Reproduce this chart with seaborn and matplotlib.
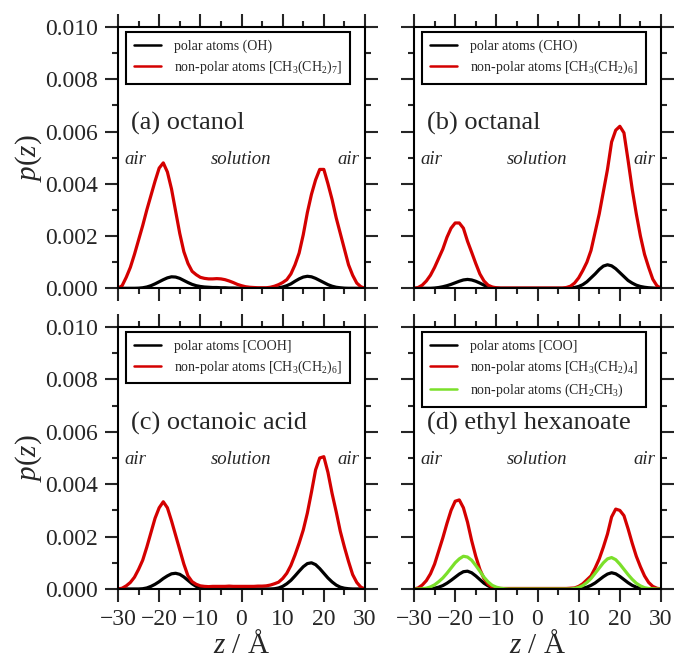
import numpy as np
import pandas as pd
import matplotlib
matplotlib.use("Agg")
import matplotlib.pyplot as plt
from matplotlib.ticker import MultipleLocator, FormatStrFormatter
import seaborn as sns

# ---- data: density profiles p(z), sampled every 1 Angstrom (values in units of 1e-3) ----
z = list(range(-30, 31))

a_polar = [0, 0, 0, 0, 0, 0.005, 0.02, 0.05, 0.1, 0.17,
           0.25, 0.33, 0.4, 0.44, 0.43, 0.38, 0.3, 0.22, 0.15, 0.1,
           0.07, 0.05, 0.04, 0.03, 0.03, 0.02, 0.02, 0.01, 0.01, 0.005,
           0, 0, 0, 0, 0, 0, 0, 0, 0, 0.02,
           0.05, 0.1, 0.17, 0.27, 0.36, 0.43, 0.46, 0.44, 0.38, 0.3,
           0.22, 0.14, 0.08, 0.04, 0.02, 0.005, 0, 0, 0, 0,
           0]
a_nonpolar = [0, 0.1, 0.42, 0.8, 1.3, 1.85, 2.4, 3.0, 3.55, 4.1,
              4.6, 4.8, 4.45, 3.8, 2.95, 2.1, 1.4, 0.95, 0.65, 0.52,
              0.42, 0.38, 0.36, 0.36, 0.37, 0.36, 0.33, 0.28, 0.22, 0.15,
              0.1, 0.06, 0.04, 0.03, 0.02, 0.02, 0.02, 0.04, 0.08, 0.14,
              0.22, 0.33, 0.55, 0.9, 1.35, 2.05, 2.9, 3.6, 4.15, 4.55,
              4.55, 4.0, 3.4, 2.7, 2.1, 1.5, 0.9, 0.5, 0.2, 0.06,
              0]

b_polar = [0, 0, 0, 0, 0, 0.01, 0.03, 0.06, 0.1, 0.15,
           0.21, 0.27, 0.32, 0.34, 0.32, 0.27, 0.2, 0.12, 0.06, 0.03,
           0.01, 0, 0, 0, 0, 0, 0, 0, 0, 0,
           0, 0, 0, 0, 0, 0, 0, 0, 0.01, 0.03,
           0.07, 0.14, 0.25, 0.4, 0.55, 0.72, 0.85, 0.9, 0.86, 0.75,
           0.6, 0.45, 0.3, 0.2, 0.12, 0.07, 0.04, 0.02, 0.01, 0,
           0]
b_nonpolar = [0, 0.03, 0.12, 0.28, 0.5, 0.8, 1.15, 1.5, 1.95, 2.3,
              2.5, 2.5, 2.3, 1.8, 1.38, 0.95, 0.55, 0.28, 0.12, 0.05,
              0.02, 0.01, 0.01, 0.01, 0.01, 0.01, 0.01, 0.01, 0.01, 0.01,
              0.01, 0.01, 0.01, 0.01, 0.01, 0.01, 0.01, 0.03, 0.08, 0.2,
              0.4, 0.68, 1.0, 1.45, 2.15, 2.85, 3.7, 4.55, 5.6, 6.05,
              6.2, 5.95, 4.9, 3.8, 2.85, 2.0, 1.3, 0.8, 0.35, 0.1,
              0]

c_polar = [0, 0, 0, 0, 0, 0, 0.01, 0.04, 0.1, 0.18,
           0.28, 0.4, 0.5, 0.58, 0.6, 0.56, 0.46, 0.33, 0.2, 0.1,
           0.05, 0.02, 0.01, 0, 0, 0, 0, 0, 0, 0,
           0, 0, 0, 0, 0, 0, 0, 0, 0.01, 0.04,
           0.1, 0.2, 0.33, 0.5, 0.68, 0.85, 0.97, 1.0, 0.93, 0.78,
           0.6, 0.42, 0.27, 0.15, 0.07, 0.03, 0.01, 0, 0, 0,
           0]
c_nonpolar = [0, 0.03, 0.12, 0.25, 0.45, 0.75, 1.1, 1.6, 2.15, 2.7,
              3.1, 3.33, 3.1, 2.6, 2.05, 1.5, 0.95, 0.5, 0.28, 0.18,
              0.12, 0.1, 0.09, 0.1, 0.1, 0.1, 0.1, 0.11, 0.1, 0.1,
              0.1, 0.1, 0.1, 0.1, 0.11, 0.11, 0.12, 0.15, 0.2, 0.26,
              0.4, 0.6, 0.9, 1.3, 1.75, 2.25, 2.9, 3.7, 4.55, 5.0,
              5.05, 4.45, 3.65, 2.95, 2.2, 1.6, 1.05, 0.55, 0.25, 0.07,
              0]

d_polar = [0, 0, 0, 0, 0.01, 0.03, 0.07, 0.13, 0.22, 0.33,
           0.45, 0.57, 0.66, 0.68, 0.62, 0.5, 0.36, 0.22, 0.12, 0.05,
           0.02, 0, 0, 0, 0, 0, 0, 0, 0, 0,
           0, 0, 0, 0, 0, 0, 0, 0, 0, 0,
           0.01, 0.03, 0.07, 0.14, 0.23, 0.35, 0.47, 0.57, 0.62, 0.58,
           0.48, 0.36, 0.24, 0.14, 0.07, 0.03, 0.01, 0, 0, 0,
           0]
d_nonpolar = [0, 0.04, 0.15, 0.32, 0.58, 0.95, 1.45, 1.95, 2.5, 3.0,
              3.35, 3.4, 3.1, 2.55, 1.85, 1.25, 0.75, 0.4, 0.18, 0.07,
              0.03, 0.02, 0.02, 0.02, 0.02, 0.02, 0.02, 0.02, 0.02, 0.02,
              0.02, 0.02, 0.02, 0.02, 0.02, 0.02, 0.02, 0.02, 0.03, 0.04,
              0.1, 0.2, 0.35, 0.5, 0.8, 1.15, 1.6, 2.1, 2.75, 3.05,
              3.0, 2.8, 2.3, 1.75, 1.25, 0.85, 0.5, 0.25, 0.1, 0.03,
              0]
d_ethyl = [0, 0, 0.01, 0.03, 0.08, 0.16, 0.28, 0.42, 0.6, 0.8,
           1.0, 1.15, 1.25, 1.22, 1.1, 0.9, 0.68, 0.45, 0.27, 0.14,
           0.07, 0.03, 0.01, 0, 0, 0, 0, 0, 0, 0,
           0, 0, 0, 0, 0, 0, 0, 0, 0, 0.02,
           0.06, 0.13, 0.25, 0.4, 0.6, 0.8, 1.0, 1.15, 1.2, 1.12,
           0.95, 0.75, 0.55, 0.37, 0.22, 0.12, 0.05, 0.02, 0.01, 0,
           0]

titles = ["(a) octanol", "(b) octanal", "(c) octanoic acid", "(d) ethyl hexanoate"]
labels = [
    ["polar atoms (OH)", r"non-polar atoms [CH$_3$(CH$_2$)$_7$]"],
    ["polar atoms (CHO)", r"non-polar atoms [CH$_3$(CH$_2$)$_6$]"],
    ["polar atoms [COOH]", r"non-polar atoms [CH$_3$(CH$_2$)$_6$]"],
    ["polar atoms [COO]", r"non-polar atoms [CH$_3$(CH$_2$)$_4$]",
     r"non-polar atoms (CH$_2$CH$_3$)"],
]
series = [
    [a_polar, a_nonpolar],
    [b_polar, b_nonpolar],
    [c_polar, c_nonpolar],
    [d_polar, d_nonpolar, d_ethyl],
]
colors = ["#000000", "#d40000", "#7be02a"]
y_ticks = [0.000, 0.002, 0.004, 0.006, 0.008, 0.010]
x_ticks = [-30, -20, -10, 0, 10, 20, 30]

# ---- style ----
sns.set_theme(style="ticks")
plt.rcParams["font.family"] = ["Liberation Serif", "DejaVu Serif"]
plt.rcParams["mathtext.fontset"] = "custom"
plt.rcParams["mathtext.rm"] = "Liberation Serif"
plt.rcParams["mathtext.it"] = "Liberation Serif:italic"
plt.rcParams["axes.linewidth"] = 1.5
plt.rcParams["axes.unicode_minus"] = True

W, H = 675, 661
fig = plt.figure(figsize=(W / 100, H / 100), dpi=100)

# panel boxes in pixels: (left, right, top, bottom)
boxes = [(118, 365, 27, 288.3), (414, 661, 27, 288.3),
         (118, 365, 327, 589), (414, 661, 327, 589)]

for i, (l, r, t, b) in enumerate(boxes):
    ax = fig.add_axes([l / W, 1 - b / H, (r - l) / W, (b - t) / H])
    for s, lab, col in zip(series[i], labels[i], colors):
        df = pd.DataFrame({"z": z, "p": np.array(s) * 1e-3})
        sns.lineplot(data=df, x="z", y="p", ax=ax, color=col, lw=2.3,
                     label=lab, legend=False)
    ax.set_xlim(-30, 30)
    ax.set_ylim(0, 0.010)
    ax.set_xticks(x_ticks)
    ax.set_yticks(y_ticks)
    ax.xaxis.set_minor_locator(MultipleLocator(5))
    ax.yaxis.set_minor_locator(MultipleLocator(0.001))
    ax.yaxis.set_major_formatter(FormatStrFormatter("%.3f"))
    ax.tick_params(which="both", direction="out", top=True, right=True,
                   width=1.5, labelsize=17, pad=5,
                   labelleft=(i % 2 == 0), labelbottom=(i >= 2))
    ax.tick_params(which="major", length=9.5)
    ax.tick_params(which="minor", length=4.5)
    ax.set_xlabel("")
    ax.set_ylabel("")
    for sp in ax.spines.values():
        sp.set_linewidth(1.5)
        sp.set_color("black")

    leg = ax.legend(loc="upper left", bbox_to_anchor=(0.032, 0.981),
                    borderaxespad=0, fontsize=10, frameon=True,
                    fancybox=False, framealpha=1, edgecolor="black",
                    handlelength=1.95, handletextpad=0.95, borderpad=0.55,
                    labelspacing=0.42)
    leg.get_frame().set_linewidth(1.5)
    for ln in leg.get_lines():
        ln.set_linewidth(1.8)

    ax.text(-26.8, 0.00608, titles[i], fontsize=19, ha="left", va="baseline")
    ax.text(-28.5, 0.00477, "air", fontsize=13.5, style="italic",
            ha="left", va="baseline")
    ax.text(0, 0.00477, "solution", fontsize=13.5, style="italic",
            ha="center", va="baseline")
    ax.text(28.6, 0.00477, "air", fontsize=13.5, style="italic",
            ha="right", va="baseline")

# shared axis titles
for yc in [(27 + 288.3) / 2, (327 + 589) / 2]:
    fig.text(29 / W, 1 - yc / H, r"$p(z)$", fontsize=21, rotation=90,
             ha="center", va="center")
for xc in [(118 + 365) / 2, (414 + 661) / 2]:
    fig.text(xc / W, 1 - 653 / H, r"$z$ / Å", fontsize=21,
             ha="center", va="baseline")

fig.savefig("out.png", dpi=100)
